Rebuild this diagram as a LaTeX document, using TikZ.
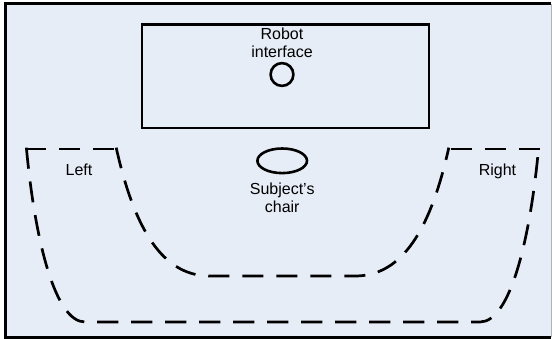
\documentclass[tikz,border=0pt]{standalone}
\usepackage{fontspec}
\setmainfont{Liberation Sans}
\definecolor{bgblue}{RGB}{231,237,247}
\tikzset{
  zone/.style={line width=2.7pt, line cap=rect, dash pattern=on 18.4pt off 15.6pt},
  solidline/.style={line width=2.8pt},
  lbl/.style={font=\fontsize{16}{17.4}\selectfont, inner sep=0pt, align=center}
}
\begin{document}
\begin{tikzpicture}[x=1pt,y=-1pt]
\useasboundingbox (0,0) rectangle (552,339);
% frame
\fill[bgblue] (5.5,4) rectangle (550.8,337.5);
\draw[line width=3pt] (551,4) -- (5.5,4) -- (5.5,337.5) -- (551,337.5);
\draw[gray!60, line width=0.6pt] (551,4) -- (551,337.5);
% robot interface
\draw[solidline] (142,24.5) rectangle (429,128);
\node[lbl, anchor=north] (robot) at (282,28) {Robot\\interface};
\draw[line width=2.6pt] (282,74.5) circle[radius=11.4];
% chair
\draw[line width=2.6pt] (282.2,160.8) ellipse[x radius=24.8, y radius=12.3];
\node[lbl, anchor=north] (chair) at (282.2,183) {Subject's\\chair};
% left/right labels
\node[lbl, anchor=base] (left) at (79,175.7) {Left};
\node[lbl, anchor=base] (right) at (497.5,175.7) {Right};
% zones
\coordinate (tl) at (26.5,149);
\coordinate (til) at (116.5,149);
\coordinate (tir) at (448.5,149);
\coordinate (tr) at (538.5,149);
\draw[zone] (tl) -- (til);
\draw[zone] (tr) -- (tir);
\draw[zone] (til) .. controls (137,240) and (168,276) .. (210,276) -- (355,276)
  .. controls (397,276) and (428,240) .. (tir);
\draw[zone] (tl) .. controls (35,240) and (55,322) .. (85,322) -- (480,322)
  .. controls (510,322) and (530,240) .. (tr);
\end{tikzpicture}
\end{document}
